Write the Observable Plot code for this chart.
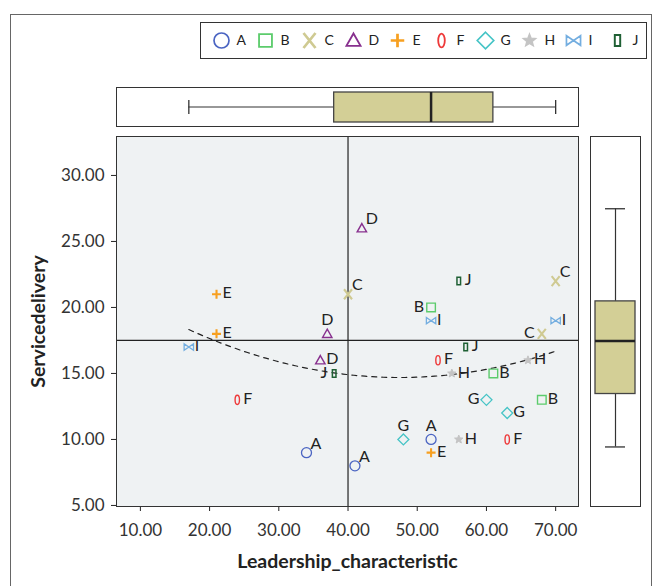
<!DOCTYPE html>
<html><head><meta charset="utf-8">
<script src="https://cdn.jsdelivr.net/npm/d3@7"></script>
<script src="https://cdn.jsdelivr.net/npm/@observablehq/plot@0.6"></script>
<style>
html,body{margin:0;padding:0;background:#fff;}
#root{position:relative;width:657px;height:586px;overflow:hidden;font-family:Lato,"Open Sans",sans-serif;}
#root svg{overflow:visible;}
.abs{position:absolute;}
#outer{position:absolute;left:10px;top:14px;width:642px;height:600px;border:1px solid #666;box-sizing:border-box;}
</style></head><body><div id="root"><div id="outer"></div></div>
<script>
// ---- data ----
const categories = ["A","B","C","D","E","F","G","H","I","J"];
const pointCategory = ["A","A","A","B","B","B","C","C","C","D","D","D","E","E","E","F","F","F","G","G","G","H","H","H","I","I","I","J","J","J"];
const leadership =      [34,41,52, 52,61,68, 40,70,68, 42,37,36, 21,21,52, 24,53,63, 48,60,63, 56,55,66, 17,52,70, 56,57,38];
const serviceDelivery = [ 9, 8,10, 20,15,13, 21,22,18, 26,18,16, 21,18, 9, 13,16,10, 10,13,12, 10,15,16, 17,19,19, 22,17,15];
const labelSide = ["tr","tr","t", "l","r","r", "tr","tr","l", "tr","t","r", "r","r","r", "r","r","r", "t","l","r", "r","r","r", "r","r","r", "r","r","l"];
const xTicks = [10,20,30,40,50,60,70];
const yTicks = [5,10,15,20,25,30];
const refX = [40];
const refY = [17.5];
const xTitle = "Leadership_characteristic";
const yTitle = "Servicedelivery";

// ---- styles ----
const FONT = "Lato, 'Open Sans', sans-serif";
const colorOf = {A:"#4a64c2",B:"#5ccc6c",C:"#cfca92",D:"#88308e",E:"#f7a020",F:"#ee3a3a",G:"#46c4c6",H:"#c4c4c4",I:"#74aee0",J:"#1f6034"};
const widthOf = {A:1.3,B:1.4,C:2.1,D:1.4,E:2.1,F:1.4,G:1.3,H:1,I:1.3,J:1.5};
const k0 = s => Math.sqrt(s/Math.PI)/5;
const symbolOf = {
  A:{draw(c,s){const k=k0(s);c.moveTo(5*k,0);c.arc(0,0,5*k,0,2*Math.PI);}},
  B:{draw(c,s){const k=k0(s);c.rect(-4.3*k,-4.3*k,8.6*k,8.6*k);}},
  C:{draw(c,s){const k=k0(s);c.moveTo(-4*k,-5*k);c.lineTo(4*k,5*k);c.moveTo(4*k,-5*k);c.lineTo(-4*k,5*k);}},
  D:{draw(c,s){const k=k0(s);c.moveTo(0,-4.7*k);c.lineTo(4.7*k,3.6*k);c.lineTo(-4.7*k,3.6*k);c.closePath();}},
  E:{draw(c,s){const k=k0(s);c.moveTo(-4.5*k,0);c.lineTo(4.5*k,0);c.moveTo(0,-4.5*k);c.lineTo(0,4.5*k);}},
  F:{draw(c,s){const k=k0(s);const rx=2.2*k,ry=4.6*k,kx=rx*0.5523,ky=ry*0.5523;
     c.moveTo(0,-ry);c.bezierCurveTo(kx,-ry,rx,-ky,rx,0);c.bezierCurveTo(rx,ky,kx,ry,0,ry);
     c.bezierCurveTo(-kx,ry,-rx,ky,-rx,0);c.bezierCurveTo(-rx,-ky,-kx,-ry,0,-ry);c.closePath();}},
  G:{draw(c,s){const k=k0(s);c.moveTo(0,-5.5*k);c.lineTo(5.5*k,0);c.lineTo(0,5.5*k);c.lineTo(-5.5*k,0);c.closePath();}},
  H:{draw(c,s){const k=k0(s);for(let i=0;i<10;i++){const a=-Math.PI/2+i*Math.PI/5;const r=(i%2?1.9:4.4)*k;
     i?c.lineTo(r*Math.cos(a),r*Math.sin(a)):c.moveTo(r*Math.cos(a),r*Math.sin(a));}c.closePath();}},
  I:{draw(c,s){const k=k0(s);const w=4.7*k,h=3.2*k;c.moveTo(-w,-h);c.lineTo(0,0);c.lineTo(-w,h);c.closePath();
     c.moveTo(w,-h);c.lineTo(0,0);c.lineTo(w,h);c.closePath();}},
  J:{draw(c,s){const k=k0(s);c.rect(-1.8*k,-3.7*k,3.6*k,7.4*k);}}
};

const data = leadership.map((x,i)=>({x, y: serviceDelivery[i], cat: pointCategory[i], side: labelSide[i]}));

// quadratic least-squares fit
function quadFit(xs, ys){
  const S=[0,0,0,0,0], T=[0,0,0];
  xs.forEach((x,i)=>{for(let p=0;p<5;p++)S[p]+=x**p;for(let p=0;p<3;p++)T[p]+=ys[i]*x**p;});
  const M=[[S[0],S[1],S[2],T[0]],[S[1],S[2],S[3],T[1]],[S[2],S[3],S[4],T[2]]];
  for(let i=0;i<3;i++){for(let j=i+1;j<3;j++){const f=M[j][i]/M[i][i];for(let c=i;c<4;c++)M[j][c]-=f*M[i][c];}}
  const b=[0,0,0];
  for(let i=2;i>=0;i--){let v=M[i][3];for(let j=i+1;j<3;j++)v-=M[i][j]*b[j];b[i]=v/M[i][i];}
  return b;
}
const coef = quadFit(leadership, serviceDelivery);
const [xmin,xmax] = d3.extent(leadership);
const fitLine = d3.range(101).map(i=>{const x=xmin+(xmax-xmin)*i/100;return {x, y: coef[0]+coef[1]*x+coef[2]*x*x};});

function boxStats(vals){
  const s=vals.slice().sort(d3.ascending), n=s.length;
  const q1=d3.median(s.slice(0,Math.ceil(n/2))), q3=d3.median(s.slice(Math.floor(n/2)));
  const iqr=q3-q1;
  return {q1, q3, median:d3.median(s), lo:d3.min(s.filter(v=>v>=q1-1.5*iqr)), hi:d3.max(s.filter(v=>v<=q3+1.5*iqr))};
}
const xStats = boxStats(leadership), yStats = boxStats(serviceDelivery);

const root = document.getElementById("root");
function place(el, left, top){el.classList.add("abs");el.style.left=left+"px";el.style.top=top+"px";root.appendChild(el);}

const sideOpts = {
  r:{dx:6,dy:-1,textAnchor:"start"},
  tr:{dx:4,dy:-9,textAnchor:"start"},
  t:{dx:0,dy:-14,textAnchor:"middle"},
  l:{dx:-7,dy:-1,textAnchor:"end"}
};
const XD=[6.55,73.3], YD=[4.92,32.95];

const main = Plot.plot({
  width:657, height:586,
  marginLeft:116, marginRight:79, marginTop:136, marginBottom:80,
  style:{fontFamily:FONT, fontSize:"16px", color:"#222", background:"transparent"},
  x:{domain:XD}, y:{domain:YD},
  marks:[
    Plot.frame({fill:"#eff2f3"}),
    Plot.ruleX(refX,{stroke:"#222",strokeWidth:1.2}),
    Plot.ruleY(refY,{stroke:"#222",strokeWidth:1.2}),
    Plot.line(fitLine,{x:"x",y:"y",stroke:"#222",strokeWidth:1.2,strokeDasharray:"5,5"}),
    Plot.dot(data,{x:"x",y:"y",r:5,symbol:d=>symbolOf[d.cat],stroke:d=>colorOf[d.cat],
      fill:d=>d.cat==="H"?colorOf.H:"none",strokeWidth:d=>widthOf[d.cat]}),
    ...Object.keys(sideOpts).map(s=>Plot.text(data.filter(d=>d.side===s),{x:"x",y:"y",text:"cat",fill:"#222",fontSize:16,...sideOpts[s]})),
    Plot.axisX(xTicks,{tickFormat:d3.format(".2f"),tickSize:5,tickPadding:12,fontSize:17,fill:"#333",label:null}),
    Plot.axisY(yTicks,{tickFormat:d3.format(".2f"),tickSize:5,tickPadding:7,fontSize:17,fill:"#333",label:null}),
    Plot.text([xTitle],{frameAnchor:"bottom",dy:61,fontWeight:"bold",fontSize:19.5,fill:"#222"}),
    Plot.text([yTitle],{frameAnchor:"left",dx:-78,rotate:-90,textAnchor:"middle",fontWeight:"bold",fontSize:19.5,fill:"#222"}),
    Plot.frame({stroke:"#333"})
  ]
});
place(main,0,0);

const topBox = Plot.plot({
  width:657, height:39, marginLeft:116, marginRight:79, marginTop:0, marginBottom:0,
  style:{background:"transparent"},
  x:{domain:XD, axis:null},
  marks:[
    Plot.frame({stroke:"#333"}),
    Plot.ruleY([xStats],{x1:"lo",x2:"q1",y:null,stroke:"#333",strokeWidth:1.2}),
    Plot.ruleY([xStats],{x1:"q3",x2:"hi",y:null,stroke:"#333",strokeWidth:1.2}),
    Plot.barX([xStats],{x1:"q1",x2:"q3",fill:"#d3cf96",stroke:"#444",strokeWidth:1.3,insetTop:5,insetBottom:4}),
    Plot.tickX([xStats],{x:"median",stroke:"#222",strokeWidth:2.5,insetTop:5,insetBottom:4}),
    Plot.tickX([xStats],{x:"lo",stroke:"#333",strokeWidth:1.3,insetTop:13,insetBottom:12}),
    Plot.tickX([xStats],{x:"hi",stroke:"#333",strokeWidth:1.3,insetTop:13,insetBottom:12})
  ]
});
place(topBox,0,87);

const rightBox = Plot.plot({
  width:50, height:370, margin:0,
  style:{background:"transparent"},
  y:{domain:[3.5,31.46], axis:null},
  marks:[
    Plot.frame({stroke:"#333"}),
    Plot.ruleX([yStats],{y1:"lo",y2:"q1",x:null,stroke:"#333",strokeWidth:1.2}),
    Plot.ruleX([yStats],{y1:"q3",y2:"hi",x:null,stroke:"#333",strokeWidth:1.2}),
    Plot.barY([yStats],{y1:"q1",y2:"q3",fill:"#d3cf96",stroke:"#444",strokeWidth:1.3,insetLeft:5,insetRight:5}),
    Plot.tickY([yStats],{y:"median",stroke:"#222",strokeWidth:2.5,insetLeft:5,insetRight:5}),
    Plot.tickY([yStats],{y:"lo",stroke:"#333",strokeWidth:1.3,insetLeft:15,insetRight:15}),
    Plot.tickY([yStats],{y:"hi",stroke:"#333",strokeWidth:1.3,insetLeft:15,insetRight:15})
  ]
});
place(rightBox,590,136);

const legend = Plot.plot({
  width:446, height:36, margin:0,
  style:{fontFamily:FONT, fontSize:"14px", background:"#fff"},
  x:{type:"point", domain:categories, range:[17,420], padding:0, axis:null},
  marks:[
    Plot.frame({stroke:"#333"}),
    Plot.dot(categories,{x:d=>d,r:7.5,symbol:d=>symbolOf[d],stroke:d=>colorOf[d],
      fill:d=>d==="H"?colorOf.H:"none",strokeWidth:d=>widthOf[d]*1.3}),
    Plot.text(categories,{x:d=>d,text:d=>d,dx:15,textAnchor:"start",fill:"#222",fontSize:14})
  ]
});
place(legend,200,22);
</script></body></html>
